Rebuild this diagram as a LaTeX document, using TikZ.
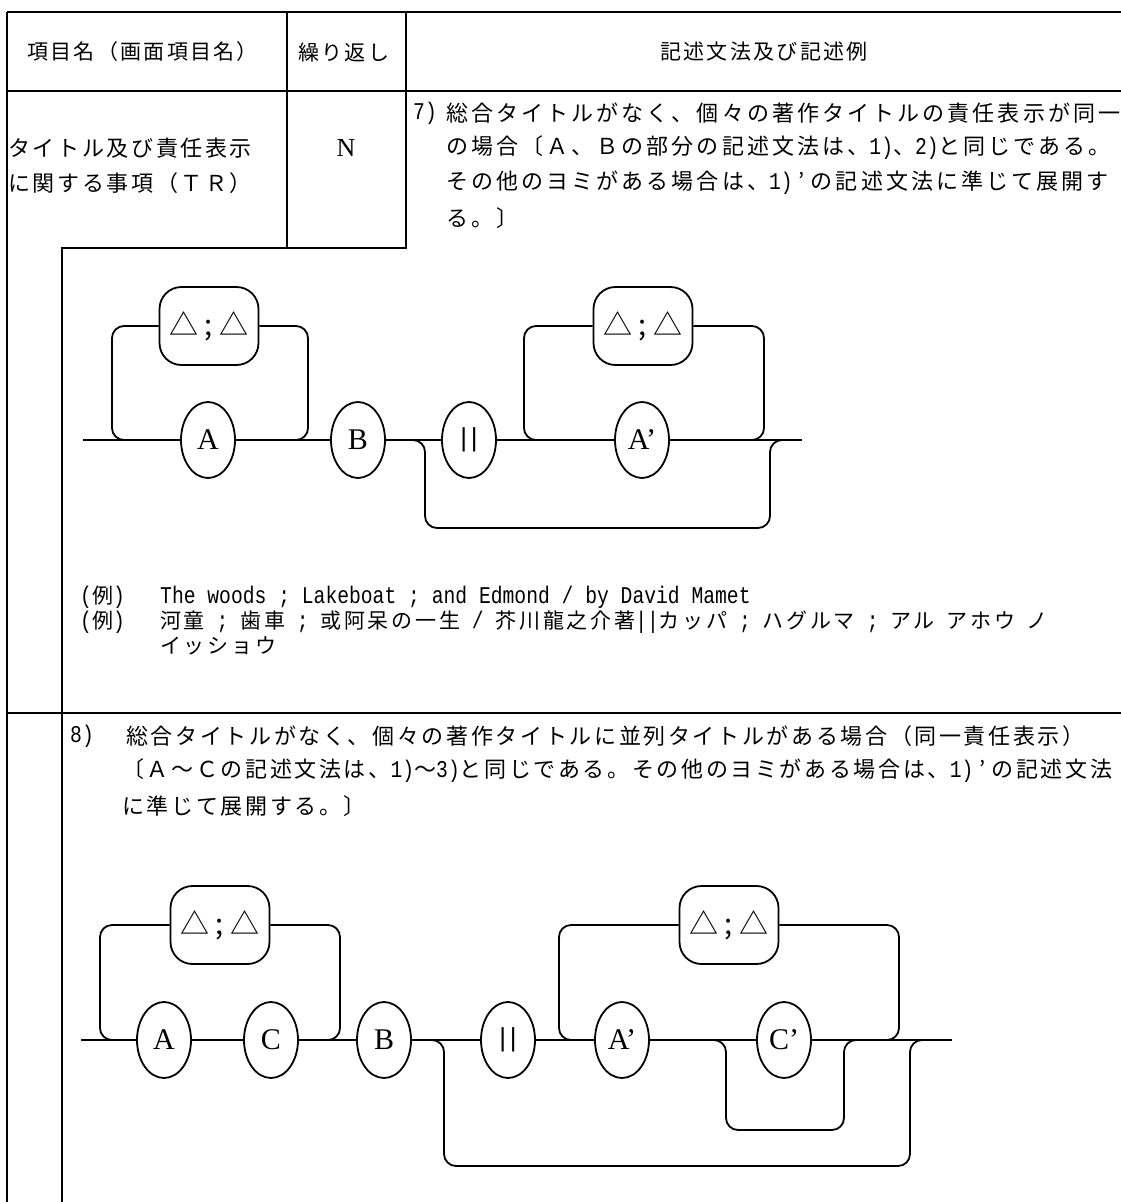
\documentclass[tikz,border=0pt]{standalone}
\usepackage{fontspec}
\setmainfont{Liberation Serif}
\newfontfamily\cjk[LetterSpace=14]{Noto Sans CJK JP}
\newfontfamily\cjkh[LetterSpace=11]{Noto Sans CJK JP}
\newfontfamily\cjke[LetterSpace=12]{Noto Sans CJK JP}
\newfontfamily\cjkx[LetterSpace=13]{Noto Sans CJK JP}
\newfontfamily\cjkplain{Noto Sans CJK JP}
\newfontfamily\mono[FakeStretch=0.82]{Liberation Mono}
\newfontfamily\lsans{Liberation Sans}
\usetikzlibrary{shapes.geometric}
\newcommand\mm[1]{{\fontsize{24}{24}\selectfont\mono #1}}
\tikzset{
  tl/.style={line width=1.8pt},
  jt/.style={anchor=west, inner sep=0pt, font=\fontsize{22}{22}\selectfont\cjk},
  jh/.style={anchor=west, inner sep=0pt, font=\fontsize{21}{21}\selectfont\cjkh},
  je/.style={anchor=west, inner sep=0pt, font=\fontsize{22}{22}\selectfont\cjke},
  ex/.style={anchor=west, inner sep=0pt, font=\fontsize{21}{21}\selectfont\cjkx},
  oval/.style={ellipse, draw, line width=1.8pt, fill=white, minimum width=54pt, minimum height=76pt, inner sep=0pt, font=\fontsize{30}{30}\selectfont},
  bars/.style={font=\fontsize{26}{26}\selectfont\lsans},
  semi/.style={draw, rounded corners=22pt, line width=1.8pt, fill=white, minimum width=99pt, minimum height=78pt, inner sep=0pt, font=\fontsize{29}{29}\selectfont\cjkplain},
  rail/.style={line width=1.8pt, rounded corners=12pt},
}
\newcommand\tri{△\hspace{6pt};\hspace{6pt}△}
\begin{document}
\begin{tikzpicture}[x=1pt,y=-1pt]
\useasboundingbox (0,0) rectangle (1121,1202);
% ---------- table frame ----------
\coordinate (tl) at (7,12);  \coordinate (tr) at (1121,12);
\coordinate (hl) at (7,91);  \coordinate (hr) at (1121,91);
\coordinate (bl) at (7,1202);
\coordinate (c2a) at (287,12); \coordinate (c2b) at (287,248);
\coordinate (c3a) at (406,12); \coordinate (c3b) at (406,248);
\coordinate (in1) at (62,248); \coordinate (in2) at (62,1202);
\coordinate (dl) at (7,713); \coordinate (dr) at (1121,713);
\draw[tl] (tl) -- (tr);
\draw[tl] (tl) -- (bl);
\draw[tl] (hl) -- (hr);
\draw[tl] (c2a) -- (c2b) -- (c3b) -- (c3a);
\draw[tl] (c2b) -- (in1) -- (in2);
\draw[tl] (dl) -- (dr);
% ---------- header texts ----------
\node[jh] (h1) at (27,52) {項目名（画面項目名）};
\node[jh] (h2) at (298,52) {繰り返し};
\node[jh] (h3) at (660,52) {記述文法及び記述例};
\node[je] (n1) at (8,148) {タイトル及び責任表示};
\node[je] (n2) at (8,183) {に関する事項（ＴＲ）};
\node[font=\fontsize{26}{26}\selectfont] (rep) at (346,148) {N};
% ---------- row 7 text ----------
\node[jt] (r7n) at (413,113) {\mm{7)}};
\node[jt] (r7a) at (446,113) {総合タイトルがなく、個々の著作タイトルの責任表示が同一};
\node[jt] (r7b) at (446,148) {の場合〔Ａ、Ｂの部分の記述文法は、\mm{1)}、\mm{2)}と同じである。};
\node[jt] (r7c) at (446,183) {その他のヨミがある場合は、\mm{1)}\hspace{6pt}’\hspace{6pt}の記述文法に準じて展開す};
\node[jt] (r7d) at (446,218) {る。〕};
% ---------- diagram 1 ----------
\coordinate (s1) at (83,440);
\coordinate (f1) at (802,440);
\node[oval] (a1) at (208,440) {A};
\node[oval] (b1) at (358,440) {B};
\node[oval,bars] (p1) at (469,440) {|\hspace{4pt}|};
\node[oval] (ap1) at (642,440) {A’};
\node[semi] (k1) at (209,326) {\tri};
\node[semi] (k2) at (643,326) {\tri};
\draw[tl] (s1) -- (a1);
\draw[tl] (a1) -- (b1);
\draw[tl] (b1) -- (p1);
\draw[tl] (p1) -- (ap1);
\draw[tl] (ap1) -- (f1);
\draw[rail] (k1.west) -- (112,326) -- (112,440) -- (126,440);
\draw[rail] (k1.east) -- (308,326) -- (308,440) -- (294,440);
\draw[rail] (k2.west) -- (524,326) -- (524,440) -- (538,440);
\draw[rail] (k2.east) -- (764,326) -- (764,440) -- (750,440);
\draw[rail] (413,440) -- (425,440) -- (425,528) -- (770,528) -- (770,440) -- (782,440);
% ---------- examples ----------
\node[ex] (x1l) at (80,597) {\mm{(}例\mm{)}};
\node[ex] (x1) at (160,597) {\mm{The woods ; Lakeboat ; and Edmond / by David Mamet}};
\node[ex] (x2l) at (80,622) {\mm{(}例\mm{)}};
\node[ex] (x2) at (160,622) {河童\mm{\ ;\ }歯車\mm{\ ;\ }或阿呆の一生\mm{\ /\ }芥川龍之介著\mm{||}カッパ\mm{\ ;\ }ハグルマ\mm{\ ;\ }アル\mm{\ }アホウ\mm{\ }ノ};
\node[ex] (x3) at (160,646) {イッショウ};
% ---------- row 8 text ----------
\node[jt] (r8n) at (70,736) {\mm{8)}};
\node[je] (r8a) at (126,736) {総合タイトルがなく、個々の著作タイトルに並列タイトルがある場合（同一責任表示）};
\node[je] (r8b) at (122,771) {〔Ａ～Ｃの記述文法は、\mm{1)}～\mm{3)}と同じである。その他のヨミがある場合は、\mm{1)}\hspace{6pt}’\hspace{6pt}の記述文法};
\node[je] (r8c) at (122,806) {に準じて展開する。〕};
% ---------- diagram 2 ----------
\coordinate (s2) at (81,1040);
\coordinate (f2) at (952,1040);
\node[oval] (a2) at (164,1040) {A};
\node[oval] (c2) at (271,1040) {C};
\node[oval] (b2) at (384,1040) {B};
\node[oval,bars] (p2) at (508,1040) {|\hspace{4pt}|};
\node[oval] (ap2) at (622,1040) {A’};
\node[oval] (cp2) at (784,1040) {C’};
\node[semi] (k3) at (220,925) {\tri};
\node[semi] (k4) at (729,925) {\tri};
\draw[tl] (s2) -- (a2);
\draw[tl] (a2) -- (c2);
\draw[tl] (c2) -- (b2);
\draw[tl] (b2) -- (p2);
\draw[tl] (p2) -- (ap2);
\draw[tl] (ap2) -- (cp2);
\draw[tl] (cp2) -- (f2);
\draw[rail] (k3.west) -- (100,925) -- (100,1040) -- (114,1040);
\draw[rail] (k3.east) -- (340,925) -- (340,1040) -- (326,1040);
\draw[rail] (k4.west) -- (559,925) -- (559,1040) -- (573,1040);
\draw[rail] (k4.east) -- (899,925) -- (899,1040) -- (885,1040);
\draw[rail] (432,1040) -- (444,1040) -- (444,1166) -- (910,1166) -- (910,1040) -- (922,1040);
\draw[rail] (714,1040) -- (726,1040) -- (726,1130) -- (844,1130) -- (844,1040) -- (856,1040);
\end{tikzpicture}
\end{document}
